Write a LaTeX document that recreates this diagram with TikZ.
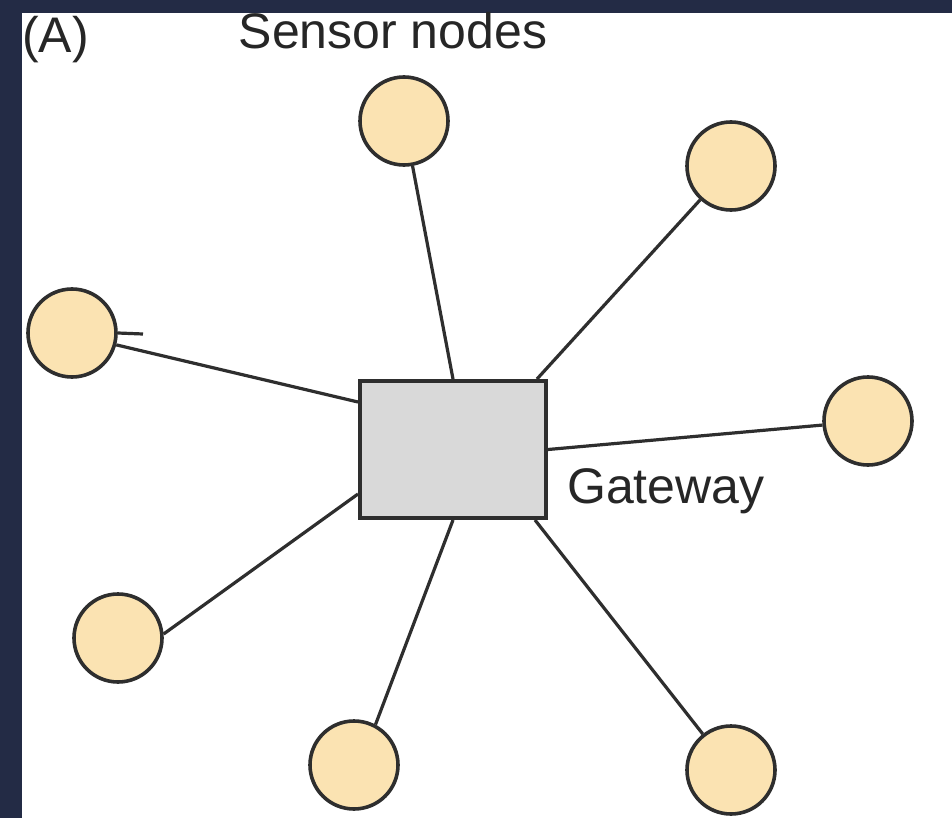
\documentclass[tikz,border=0pt]{standalone}
\usepackage{fontspec}
\setmainfont{Liberation Sans}
\definecolor{navy}{HTML}{232B45}
\definecolor{peach}{HTML}{FBE3B2}
\definecolor{gwgray}{HTML}{D9D9D9}
\definecolor{edge}{HTML}{2E2E2E}
\begin{document}
\begin{tikzpicture}[x=1pt,y=-1pt,
  sensor/.style={circle,draw=edge,line width=3.6pt,fill=peach,minimum size=88pt,inner sep=0pt},
  gwbox/.style={rectangle,draw=edge,line width=4pt,fill=gwgray,minimum width=186pt,minimum height=137pt,inner sep=0pt},
  link/.style={draw=edge,line width=3.2pt},
  lbl/.style={font=\fontsize{50}{60}\selectfont,text=black!85,inner sep=0pt}]
\useasboundingbox (0,0) rectangle (952,818);
\fill[white] (0,0) rectangle (952,818);
\fill[navy] (0,0) rectangle (952,13);
\fill[navy] (0,0) rectangle (22,818);
% gateway
\node[gwbox] (gw) at (453,449.5) {};
% sensors
\node[sensor] (stop) at (404,121) {};
\node[sensor] (str) at (731,166) {};
\node[sensor] (sleft) at (72,333) {};
\node[sensor] (sright) at (868,421) {};
\node[sensor] (sll) at (118,638) {};
\node[sensor] (sbot) at (354,765) {};
\node[sensor] (sbr) at (731,770) {};
% anchor points on the gateway
\coordinate (gtr) at (537,379);
\coordinate (gl) at (358,402);
\coordinate (gll) at (358,494);
\coordinate (gbr) at (535,520);
\coordinate (stub) at (143,334);
% links
\draw[link] (stop) -- (gw.north);
\draw[link] (str) -- (gtr);
\draw[link] (sleft.-15) -- (gl);
\draw[link] (sleft.east) -- (stub);
\draw[link] (sright) -- (gw.east);
\draw[link] (sll.5) -- (gll);
\draw[link] (sbot.62) -- (gw.south);
\draw[link] (sbr) -- (gbr);
% labels
\node[lbl,anchor=base west] (lA) at (22,53) {(A)};
\node[lbl,anchor=base] (lsens) at (393,49) {Sensor nodes};
\node[lbl,anchor=base west] (lgw) at (567,503) {Gateway};
\end{tikzpicture}
\end{document}
